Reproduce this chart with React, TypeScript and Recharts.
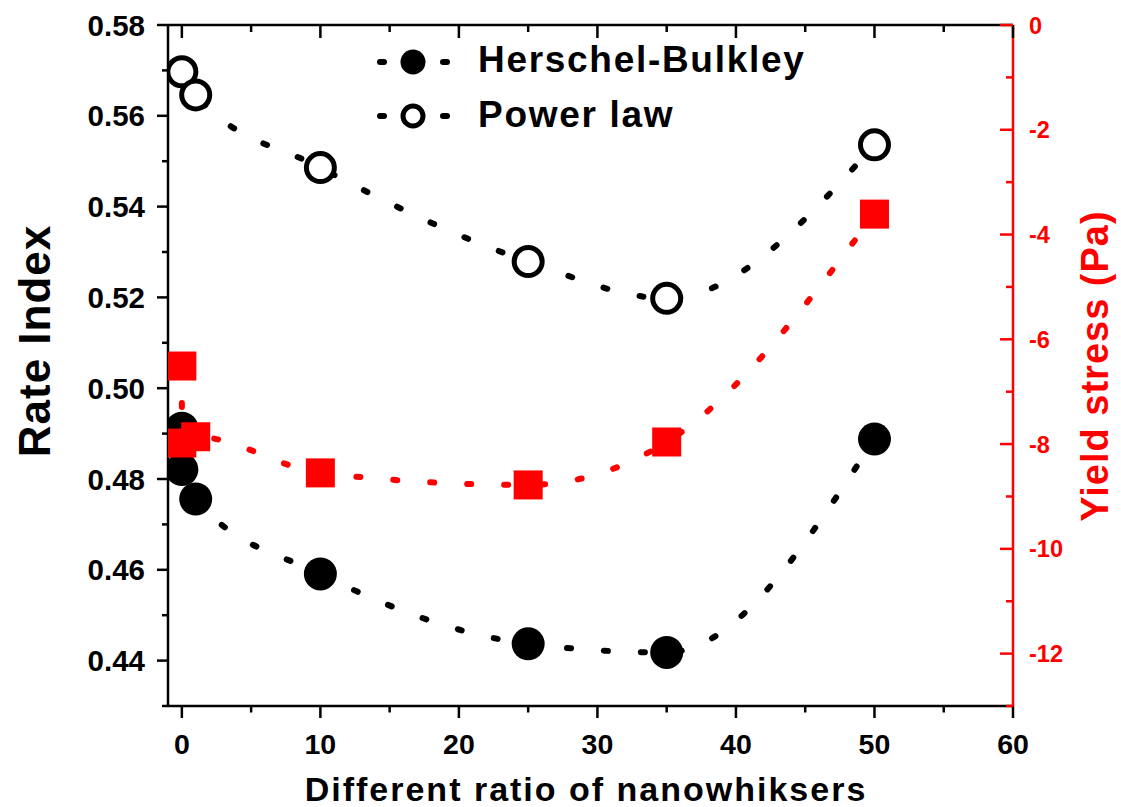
import React from 'react';
import {
  ComposedChart,
  Line,
  Scatter,
  XAxis,
  YAxis,
  ReferenceLine,
  Customized,
} from 'recharts';

// Herschel-Bulkley fit: rate index vs. nanowhisker ratio
const hbRatio = [0, 0, 1, 10, 25, 35, 50];
const hbRateIndex = [0.4912, 0.4821, 0.4756, 0.4591, 0.4437, 0.4418, 0.4888];

// Power-law fit: rate index vs. nanowhisker ratio
const plRatio = [0, 1, 10, 25, 35, 50];
const plRateIndex = [0.5697, 0.5646, 0.5486, 0.5279, 0.5198, 0.5536];

// Herschel-Bulkley yield stress (Pa)
const ysRatio = [0, 0, 1, 10, 25, 35, 50];
const ysYieldStress = [-6.51, -7.98, -7.86, -8.55, -8.78, -7.96, -3.61];

// Axis ticks
const xTicks = [0, 5, 10, 15, 20, 25, 30, 35, 40, 45, 50, 55, 60];
const leftTicks = [0.43, 0.44, 0.45, 0.46, 0.47, 0.48, 0.49, 0.5, 0.51, 0.52, 0.53, 0.54, 0.55, 0.56, 0.57, 0.58];
const rightTicks = [-13, -12, -11, -10, -9, -8, -7, -6, -5, -4, -3, -2, -1, 0];

const legendLabels = ['Herschel-Bulkley', 'Power law'];
const xTitle = 'Different ratio of nanowhiksers';
const leftTitle = 'Rate Index';
const rightTitle = 'Yield stress (Pa)';

const hbData = hbRatio.map((x, i) => ({ x, y: hbRateIndex[i] }));
const plData = plRatio.map((x, i) => ({ x, y: plRateIndex[i] }));
const ysData = ysRatio.map((x, i) => ({ x, y: ysYieldStress[i] }));

const W = 1121;
const H = 807;
const PLOT_TOP = 25;
const PLOT_BOTTOM = 706;
const FONT = '"Liberation Sans", Arial, Helvetica, sans-serif';
const RED = '#ff0000';
const AXIS_W = 2.5;

const XTick = (props: any) => {
  const { x, y, payload } = props;
  const v = payload.value as number;
  const major = v % 10 === 0;
  const top = y - (PLOT_BOTTOM - PLOT_TOP);
  return (
    <g>
      <line x1={x} x2={x} y1={y} y2={y + (major ? 12 : 6.5)} stroke="#000" strokeWidth={AXIS_W} />
      <line x1={x} x2={x} y1={top} y2={top + (major ? 13 : 7)} stroke="#000" strokeWidth={AXIS_W} />
      {major && (
        <text x={x} y={y + 47.5} textAnchor="middle" fontFamily={FONT} fontWeight="bold" fontSize={28.5} fill="#000">
          {v}
        </text>
      )}
    </g>
  );
};

const LeftTick = (props: any) => {
  const { x, y, payload } = props;
  const v = payload.value as number;
  const major = Math.round(v * 100) % 2 === 0;
  return (
    <g>
      <line x1={x - (major ? 11 : 6)} x2={x} y1={y} y2={y} stroke="#000" strokeWidth={AXIS_W} />
      {major && (
        <text x={x - 23} y={y + 10.5} textAnchor="end" fontFamily={FONT} fontWeight="bold" fontSize={29.5} fill="#000">
          {v.toFixed(2)}
        </text>
      )}
    </g>
  );
};

const RightTick = (props: any) => {
  const { x, y, payload } = props;
  const v = payload.value as number;
  const major = Math.round(Math.abs(v)) % 2 === 0;
  return (
    <g>
      <line x1={x - (major ? 13 : 7)} x2={x} y1={y} y2={y} stroke={RED} strokeWidth={AXIS_W} />
      {major && (
        <text x={x + 16} y={y + 8.5} textAnchor="start" fontFamily={FONT} fontWeight="bold" fontSize={23.5} fill={RED}>
          {v}
        </text>
      )}
    </g>
  );
};

const FilledCircle = (props: any) => <circle cx={props.cx} cy={props.cy} r={16.5} fill="#000" />;
const OpenCircle = (props: any) => (
  <circle cx={props.cx} cy={props.cy} r={14} fill="#fff" stroke="#000" strokeWidth={5} />
);
const RedSquare = (props: any) => (
  <rect x={props.cx - 14.5} y={props.cy - 14.5} width={29} height={29} fill={RED} />
);

const dash = { strokeWidth: 6, strokeDasharray: '4 33', strokeLinecap: 'round' as const };

const Overlay = () => (
  <g>
    {/* legend */}
    {legendLabels.map((label, i) => {
      const cy = i === 0 ? 62 : 116;
      const base = i === 0 ? 72 : 127;
      return (
        <g key={label}>
          <line x1={380} x2={384} y1={cy} y2={cy} stroke="#000" strokeWidth={6} strokeLinecap="round" />
          <line x1={443} x2={447} y1={cy} y2={cy} stroke="#000" strokeWidth={6} strokeLinecap="round" />
          {i === 0 ? (
            <circle cx={413} cy={cy} r={12.5} fill="#000" />
          ) : (
            <circle cx={413} cy={cy} r={10} fill="#fff" stroke="#000" strokeWidth={5} />
          )}
          <text x={478} y={base} fontFamily={FONT} fontWeight="bold" fontSize={37} letterSpacing={1.7} fill="#000">
            {label}
          </text>
        </g>
      );
    })}
    {/* axis titles */}
    <text x={586} y={801} textAnchor="middle" fontFamily={FONT} fontWeight="bold" fontSize={34} letterSpacing={2} fill="#000">
      {xTitle}
    </text>
    <text
      transform="translate(50,341) rotate(-90)"
      textAnchor="middle"
      fontFamily={FONT}
      fontWeight="bold"
      fontSize={44}
      letterSpacing={1}
      fill="#000"
    >
      {leftTitle}
    </text>
    <text
      transform="translate(1108,366) rotate(-90)"
      textAnchor="middle"
      fontFamily={FONT}
      fontWeight="bold"
      fontSize={38}
      letterSpacing={1}
      fill={RED}
    >
      {rightTitle}
    </text>
  </g>
);

export default function App() {
  return (
    <div style={{ position: 'absolute', left: 0, top: 0, width: W, height: H, background: '#fff' }}>
      <ComposedChart width={W} height={H} margin={{ top: PLOT_TOP, right: 0, bottom: 0, left: 0 }}>
        <XAxis
          dataKey="x"
          type="number"
          domain={[-1, 60]}
          allowDataOverflow
          ticks={xTicks}
          interval={0}
          height={H - PLOT_BOTTOM}
          tickSize={0}
          tickMargin={0}
          tickLine={false}
          tick={<XTick />}
          axisLine={{ stroke: '#000', strokeWidth: AXIS_W }}
        />
        <YAxis
          yAxisId="left"
          orientation="left"
          type="number"
          domain={[0.43, 0.58]}
          allowDataOverflow
          ticks={leftTicks}
          interval={0}
          width={168}
          tickSize={0}
          tickMargin={0}
          tickLine={false}
          tick={<LeftTick />}
          axisLine={{ stroke: '#000', strokeWidth: AXIS_W }}
        />
        <YAxis
          yAxisId="right"
          orientation="right"
          type="number"
          domain={[-13, 0]}
          allowDataOverflow
          ticks={rightTicks}
          interval={0}
          width={108}
          tickSize={0}
          tickMargin={0}
          tickLine={false}
          tick={<RightTick />}
          axisLine={{ stroke: RED, strokeWidth: AXIS_W }}
        />
        <ReferenceLine yAxisId="left" y={0.58} stroke="#000" strokeWidth={AXIS_W} />

        <Line
          yAxisId="left"
          data={hbData}
          dataKey="y"
          type="monotone"
          stroke="#000"
          {...dash}
          dot={false}
          activeDot={false}
          isAnimationActive={false}
        />
        <Line
          yAxisId="left"
          data={plData}
          dataKey="y"
          type="monotone"
          stroke="#000"
          {...dash}
          dot={false}
          activeDot={false}
          isAnimationActive={false}
        />
        <Scatter yAxisId="left" data={hbData} dataKey="y" shape={<FilledCircle />} isAnimationActive={false} />
        <Scatter yAxisId="left" data={plData} dataKey="y" shape={<OpenCircle />} isAnimationActive={false} />

        <Line
          yAxisId="right"
          data={ysData}
          dataKey="y"
          type="monotone"
          stroke={RED}
          {...dash}
          dot={false}
          activeDot={false}
          isAnimationActive={false}
        />
        <Scatter yAxisId="right" data={ysData} dataKey="y" shape={<RedSquare />} isAnimationActive={false} />

        <Customized component={Overlay} />
      </ComposedChart>
    </div>
  );
}
